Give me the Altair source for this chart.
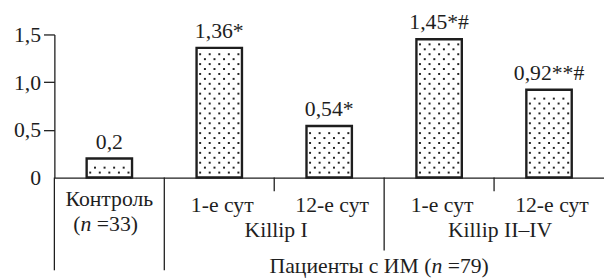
import altair as alt
import pandas as pd

# ---------------- data ----------------
ids = ["ctrl", "k1_d1", "k1_d12", "k2_d1", "k2_d12"]
values = [0.2, 1.36, 0.54, 1.45, 0.92]
value_labels = ["0,2", "1,36*", "0,54*", "1,45*#", "0,92**#"]
day_labels = ["", "1-е сут", "12-е сут", "1-е сут", "12-е сут"]
control_label = "Контроль"
control_n = ["(", "n", "=33)"]
group_labels = ["Killip I", "Killip II–IV"]
group_anchor = ["k1_d12", "k2_d12"]
patients_label = ["Пациенты с ИМ (", "n", "=79)"]
patients_anchor = "k2_d1"
y_ticks = [0, 0.5, 1.0, 1.5]

df = pd.DataFrame({"id": ids, "value": values, "vlabel": value_labels, "day": day_labels})

# ---------------- style ----------------
W, H = 557, 145
FONT = "Liberation Serif"
FS = 22
INK = "#1e1e1e"
BAND = W / len(ids)

xscale = alt.Scale(paddingInner=0, paddingOuter=0)
yscale = alt.Scale(domain=[0, 1.5], nice=False, zero=True)

x_axis = alt.Axis(title=None, labels=False, ticks=False, domainColor=INK, domainWidth=1.3, grid=False)
y_axis = alt.Axis(
    title=None,
    values=y_ticks,
    labelExpr="datum.value == 0 ? '0' : replace(format(datum.value, '.1f'), '.', ',')",
    tickSize=11,
    tickWidth=1.3,
    labelPadding=3,
    labelFont=FONT,
    labelFontSize=FS,
    labelColor=INK,
    domainColor=INK,
    domainWidth=1.3,
    tickColor=INK,
    tickOpacity={"condition": {"test": "datum.value === 0", "value": 0}, "value": 1},
    grid=False,
)


def xenc(band_pos=None):
    kw = dict(sort=ids, scale=xscale, axis=x_axis, title=None)
    if band_pos is not None:
        kw["bandPosition"] = band_pos
    return alt.X("id:N", **kw)


def yenc(field):
    return alt.Y(field, scale=yscale, axis=y_axis, title=None)


base = alt.Chart(df)

bars = base.mark_bar(width=46, fill="white", stroke=INK, strokeWidth=2.4).encode(
    x=xenc(), y=yenc("value:Q")
)

# dotted texture inside the bars
dots = (
    base.transform_calculate(n="floor((datum.value - 0.097) / 0.0517) + 1")
    .transform_calculate(rows="sequence(0, datum.n)")
    .transform_flatten(["rows"], as_=["r"])
    .transform_calculate(
        yv="0.052 + datum.r * 0.0517",
        cols="datum.r % 2 == 0 ? [-2, -1, 0, 1, 2] : [-1.5, -0.5, 0.5, 1.5]",
    )
    .transform_flatten(["cols"], as_=["c"])
    .transform_calculate(off=f"{BAND / 2} + datum.c * 9.7")
    .mark_square(size=4, color="#222222", opacity=1, filled=True)
    .encode(
        x=xenc(),
        xOffset=alt.XOffset("off:Q", scale=alt.Scale(domain=[0, BAND], range=[0, BAND])),
        y=yenc("yv:Q"),
    )
)

txt = dict(font=FONT, fontSize=FS, color=INK, baseline="alphabetic")

vlabels = base.mark_text(dy=-10, **txt).encode(x=xenc(), y=yenc("value:Q"), text="vlabel:N")

days = base.mark_text(dx=3, **txt).encode(x=xenc(), y=alt.value(180), text="day:N")

ctrl = base.transform_filter("datum.id == 'ctrl'")
ctrl1 = ctrl.mark_text(**txt).encode(x=xenc(), y=alt.value(174), text=alt.value(control_label))
ctrl2a = ctrl.mark_text(align="right", dx=-29.2, **txt).encode(x=xenc(), y=alt.value(199), text=alt.value(control_n[0]))
ctrl2b = ctrl.mark_text(align="center", dx=-23.7, fontStyle="italic", **txt).encode(x=xenc(), y=alt.value(199), text=alt.value(control_n[1]))
ctrl2c = ctrl.mark_text(align="left", dx=-12.7, **txt).encode(x=xenc(), y=alt.value(199), text=alt.value(control_n[2]))

g1 = base.transform_filter(f"datum.id == '{group_anchor[0]}'").mark_text(dx=2, **txt).encode(
    x=xenc(0), y=alt.value(205), text=alt.value(group_labels[0]))
g2 = base.transform_filter(f"datum.id == '{group_anchor[1]}'").mark_text(dx=6, **txt).encode(
    x=xenc(0), y=alt.value(205), text=alt.value(group_labels[1]))

pat = base.transform_filter(f"datum.id == '{patients_anchor}'")
p1 = pat.mark_text(align="right", dx=47.9, **txt).encode(x=xenc(0), y=alt.value(242), text=alt.value(patients_label[0]))
p2 = pat.mark_text(align="center", dx=53.4, fontStyle="italic", **txt).encode(x=xenc(0), y=alt.value(242), text=alt.value(patients_label[1]))
p3 = pat.mark_text(align="left", dx=64.4, **txt).encode(x=xenc(0), y=alt.value(242), text=alt.value(patients_label[2]))

rule = dict(color=INK, strokeWidth=1.3)
long_div = base.transform_filter("datum.id == 'ctrl' || datum.id == 'k1_d1'").mark_rule(**rule).encode(
    x=xenc(0), y=alt.value(H), y2=alt.value(239))
mid_div = base.transform_filter("datum.id == 'k2_d1'").mark_rule(**rule).encode(
    x=xenc(0), y=alt.value(H), y2=alt.value(219))
short_div = base.transform_filter("datum.id == 'k1_d12' || datum.id == 'k2_d12'").mark_rule(**rule).encode(
    x=xenc(0), y=alt.value(H), y2=alt.value(159))

chart = alt.layer(
    bars, dots, vlabels, days, ctrl1, ctrl2a, ctrl2b, ctrl2c, g1, g2, p1, p2, p3,
    long_div, mid_div, short_div,
).properties(
    width=W,
    height=H,
    padding={"left": 47, "top": 25, "right": 0, "bottom": 101},
    autosize=alt.AutoSizeParams(type="none"),
).configure_view(stroke=None)

chart.save("out.html", embed_options={"renderer": "svg", "actions": False})
